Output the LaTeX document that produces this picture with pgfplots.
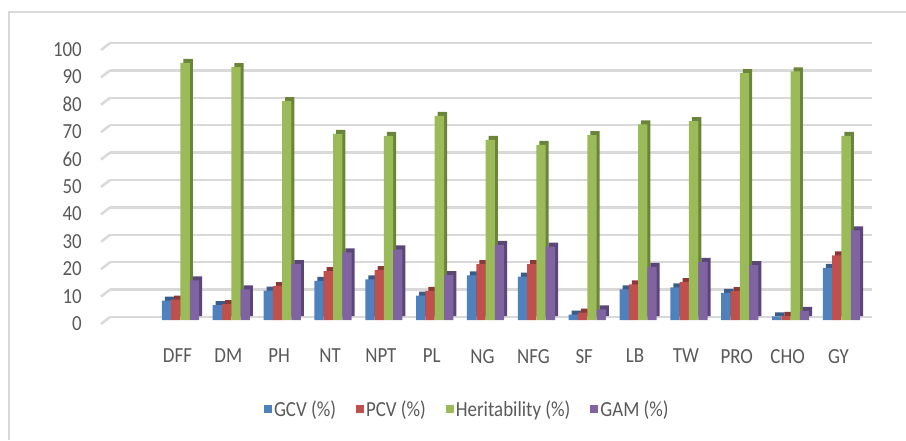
\documentclass[border=0pt]{standalone}
\usepackage{pgfplots}
\pgfplotsset{compat=1.18}
\usepackage{pgfplotstable}
\usepackage{fontspec}
\setmainfont{Carlito}
\newfontfamily\chartfont[FakeStretch=0.88]{Carlito}
\definecolor{cblue}{HTML}{4F81BD}
\definecolor{cblueD}{HTML}{385D8A}
\definecolor{cred}{HTML}{C0504D}
\definecolor{credD}{HTML}{8C3836}
\definecolor{cgreen}{HTML}{9BBB59}
\definecolor{cgreenD}{HTML}{6A8439}
\definecolor{cpurple}{HTML}{8064A2}
\definecolor{cpurpleD}{HTML}{5A4678}
\definecolor{gridgray}{HTML}{D9D9D9}
\definecolor{bordergray}{HTML}{D9D9D9}
\definecolor{txtgray}{HTML}{595959}

\pgfplotstableread{
x name gcv pcv her gam
0 DFF 7.1 7.4 93.8 14.5
1 DM 5.4 5.8 92.3 11.2
2 PH 10.7 12.4 79.9 20.4
3 NT 14.3 17.8 67.9 24.7
4 NPT 14.8 18.2 67.2 25.8
5 PL 8.9 10.6 74.5 16.4
6 NG 16.3 20.4 65.7 27.4
7 NFG 15.8 20.4 63.9 26.8
8 SF 2.0 2.7 67.5 3.9
9 LB 11.2 13.0 71.4 19.4
10 TW 11.9 13.8 72.6 21.2
11 PRO 9.9 10.5 90.1 20.0
12 CHO 1.3 1.5 90.7 3.3
13 GY 19.0 23.6 67.2 32.7
}\datatable

\begin{document}
\begin{tikzpicture}[x=1pt,y=1pt]
\path[use as bounding box] (0,0) rectangle (906,440);
\draw[bordergray, line width=1.5pt] (9,0) -- (9,428) -- (906,428);
\begin{axis}[
  at={(110pt,123pt)}, anchor=south west,
  width=762pt, height=274pt, scale only axis,
  xmin=-1.386, xmax=13.6, ymin=0, ymax=100,
  ybar, bar width=9.3pt, clip=false,
  axis line style={draw=none}, major tick length=0pt,
  ymajorgrids, grid style={gridgray, line width=2.5pt},
  ytick={0,10,...,100},
  xtick={0,...,13},
  xticklabels={DFF,DM,PH,NT,NPT,PL,NG,NFG,SF,LB,TW,PRO,CHO,GY},
  yticklabel style={anchor=east, inner sep=0pt, xshift=-28pt, yshift=-6.5pt},
  xticklabel shift=32pt,
  xticklabel style={anchor=north, inner sep=0pt, xshift=-3pt},
  tick label style={font=\chartfont\fontsize{21.5}{24}\selectfont, text=txtgray},
  /pgf/number format/assume math mode=true,
  legend image code/.code={\fill[#1] (0pt,-1pt) rectangle (8pt,7pt);},
  legend columns=4,
  legend style={at={(0.469,-0.336)}, anchor=center, draw=none, fill=none,
    font=\chartfont\fontsize{21.5}{24}\selectfont, text=txtgray,
    /tikz/every even column/.append style={column sep=18pt}},
]
\pgfplotsinvokeforeach{0,10,...,100}{
  \draw[gridgray, line width=2.5pt] (axis cs:-1.386,#1) -- ++(-9pt,-7pt);
}
\addplot[fill=cblueD, draw=none, bar shift=-10.95pt, yshift=1pt, forget plot] table[x=x, y=gcv] {\datatable};
\addplot[fill=cblue, draw=none, bar shift=-13.95pt, yshift=-3pt] table[x=x, y=gcv] {\datatable};
\addlegendentry{GCV (\%)}
\addplot[fill=credD, draw=none, bar shift=-1.65pt, yshift=1pt, forget plot] table[x=x, y=pcv] {\datatable};
\addplot[fill=cred, draw=none, bar shift=-4.65pt, yshift=-3pt] table[x=x, y=pcv] {\datatable};
\addlegendentry{PCV (\%)}
\addplot[fill=cgreenD, draw=none, bar shift=7.65pt, yshift=1pt, forget plot] table[x=x, y=her] {\datatable};
\addplot[fill=cgreen, draw=none, bar shift=4.65pt, yshift=-3pt] table[x=x, y=her] {\datatable};
\addlegendentry{Heritability (\%)}
\addplot[fill=cpurpleD, draw=none, bar shift=16.95pt, yshift=1pt, forget plot] table[x=x, y=gam] {\datatable};
\addplot[fill=cpurple, draw=none, bar shift=13.95pt, yshift=-3pt] table[x=x, y=gam] {\datatable};
\addlegendentry{GAM (\%)}
\end{axis}
\end{tikzpicture}
\end{document}
